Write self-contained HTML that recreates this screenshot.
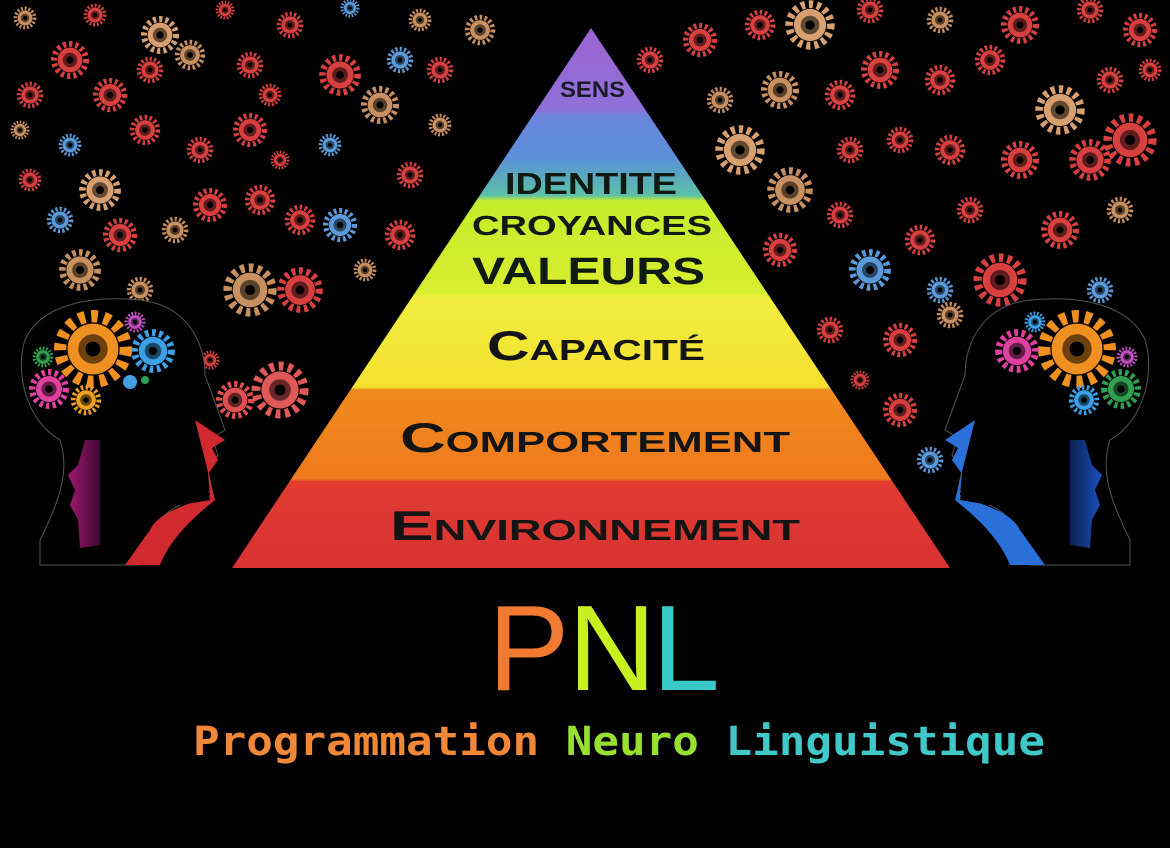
<!DOCTYPE html>
<html><head><meta charset="utf-8"><style>
html,body{margin:0;padding:0;background:#000;}
body{width:1170px;height:848px;overflow:hidden;position:relative;}
svg{position:absolute;left:0;top:0;}
</style></head><body>
<svg width="1170" height="848" viewBox="0 0 1170 848" xmlns="http://www.w3.org/2000/svg">
<defs>
<symbol id="g" viewBox="-10 -10 20 20" overflow="visible">
<circle r="8" fill="none" stroke="currentColor" stroke-width="3" stroke-dasharray="1.6 1.5"/>
<circle r="6.2" fill="currentColor"/>
<circle r="3.6" fill="#000" opacity="0.55"/>
<circle r="1.8" fill="#000"/>
</symbol>
<linearGradient id="pyr" x1="0" y1="28" x2="0" y2="568" gradientUnits="userSpaceOnUse">
<stop offset="0" stop-color="#9a64d0"/>
<stop offset="0.15" stop-color="#9070d8"/>
<stop offset="0.165" stop-color="#6a86dc"/>
<stop offset="0.24" stop-color="#5a90d8"/>
<stop offset="0.31" stop-color="#5cc0a8"/>
<stop offset="0.32" stop-color="#c6ec2c"/>
<stop offset="0.49" stop-color="#d8ee30"/>
<stop offset="0.5" stop-color="#f2ee40"/>
<stop offset="0.665" stop-color="#f4e030"/>
<stop offset="0.67" stop-color="#f08a1e"/>
<stop offset="0.835" stop-color="#f07a1e"/>
<stop offset="0.84" stop-color="#e03c32"/>
<stop offset="1" stop-color="#d83232"/>
</linearGradient>
<linearGradient id="lface" x1="0" y1="0" x2="1" y2="0">
<stop offset="0" stop-color="#a01870"/><stop offset="1" stop-color="#400830"/>
</linearGradient>
<linearGradient id="rface" x1="0" y1="0" x2="1" y2="0">
<stop offset="0" stop-color="#1a50c0"/><stop offset="1" stop-color="#0a2050"/>
</linearGradient>
</defs>

<g>
<use href="#g" x="13" y="6" width="24" height="24" color="#c89060"/>
<use href="#g" x="83" y="3" width="24" height="24" color="#d84040"/>
<use href="#g" x="140" y="15" width="40" height="40" color="#d8a070"/>
<use href="#g" x="215" y="0" width="20" height="20" color="#d84040"/>
<use href="#g" x="276" y="11" width="28" height="28" color="#d84040"/>
<use href="#g" x="340" y="-2" width="20" height="20" color="#5a9ad8"/>
<use href="#g" x="408" y="8" width="24" height="24" color="#c89060"/>
<use href="#g" x="464" y="14" width="32" height="32" color="#c89060"/>
<use href="#g" x="50" y="40" width="40" height="40" color="#d84040"/>
<use href="#g" x="92" y="77" width="36" height="36" color="#d84040"/>
<use href="#g" x="136" y="56" width="28" height="28" color="#d84040"/>
<use href="#g" x="174" y="39" width="32" height="32" color="#c89060"/>
<use href="#g" x="236" y="51" width="28" height="28" color="#d84040"/>
<use href="#g" x="258" y="83" width="24" height="24" color="#d84040"/>
<use href="#g" x="318" y="53" width="44" height="44" color="#d84040"/>
<use href="#g" x="386" y="46" width="28" height="28" color="#5a9ad8"/>
<use href="#g" x="426" y="56" width="28" height="28" color="#d84040"/>
<use href="#g" x="16" y="81" width="28" height="28" color="#d84040"/>
<use href="#g" x="10" y="120" width="20" height="20" color="#c89060"/>
<use href="#g" x="58" y="133" width="24" height="24" color="#5a9ad8"/>
<use href="#g" x="78" y="168" width="44" height="44" color="#d8a070"/>
<use href="#g" x="129" y="114" width="32" height="32" color="#d84040"/>
<use href="#g" x="186" y="136" width="28" height="28" color="#d84040"/>
<use href="#g" x="232" y="112" width="36" height="36" color="#d84040"/>
<use href="#g" x="270" y="150" width="20" height="20" color="#d84040"/>
<use href="#g" x="318" y="133" width="24" height="24" color="#5a9ad8"/>
<use href="#g" x="360" y="85" width="40" height="40" color="#c89060"/>
<use href="#g" x="428" y="113" width="24" height="24" color="#c89060"/>
<use href="#g" x="18" y="168" width="24" height="24" color="#d84040"/>
<use href="#g" x="46" y="206" width="28" height="28" color="#5a9ad8"/>
<use href="#g" x="102" y="217" width="36" height="36" color="#d84040"/>
<use href="#g" x="161" y="216" width="28" height="28" color="#c89060"/>
<use href="#g" x="192" y="187" width="36" height="36" color="#d84040"/>
<use href="#g" x="244" y="184" width="32" height="32" color="#d84040"/>
<use href="#g" x="284" y="204" width="32" height="32" color="#d84040"/>
<use href="#g" x="322" y="207" width="36" height="36" color="#5a9ad8"/>
<use href="#g" x="384" y="219" width="32" height="32" color="#d84040"/>
<use href="#g" x="396" y="161" width="28" height="28" color="#d84040"/>
<use href="#g" x="58" y="248" width="44" height="44" color="#c89060"/>
<use href="#g" x="126" y="276" width="28" height="28" color="#c89060"/>
<use href="#g" x="222" y="262" width="56" height="56" color="#c89060"/>
<use href="#g" x="276" y="266" width="48" height="48" color="#d84040"/>
<use href="#g" x="353" y="258" width="24" height="24" color="#c89060"/>
<use href="#g" x="215" y="380" width="40" height="40" color="#e05050"/>
<use href="#g" x="250" y="360" width="60" height="60" color="#e05858"/>
<use href="#g" x="200" y="350" width="20" height="20" color="#d84040"/>

<use href="#g" x="682" y="22" width="36" height="36" color="#d84040"/>
<use href="#g" x="744" y="9" width="32" height="32" color="#d84040"/>
<use href="#g" x="784" y="-1" width="52" height="52" color="#d8a070"/>
<use href="#g" x="856" y="-4" width="28" height="28" color="#d84040"/>
<use href="#g" x="926" y="6" width="28" height="28" color="#c89060"/>
<use href="#g" x="1000" y="5" width="40" height="40" color="#d84040"/>
<use href="#g" x="1076" y="-4" width="28" height="28" color="#d84040"/>
<use href="#g" x="1122" y="12" width="36" height="36" color="#d84040"/>
<use href="#g" x="636" y="46" width="28" height="28" color="#d84040"/>
<use href="#g" x="706" y="86" width="28" height="28" color="#c89060"/>
<use href="#g" x="760" y="70" width="40" height="40" color="#c89060"/>
<use href="#g" x="824" y="79" width="32" height="32" color="#d84040"/>
<use href="#g" x="860" y="50" width="40" height="40" color="#d84040"/>
<use href="#g" x="924" y="64" width="32" height="32" color="#d84040"/>
<use href="#g" x="974" y="44" width="32" height="32" color="#d84040"/>
<use href="#g" x="1034" y="84" width="52" height="52" color="#d8a070"/>
<use href="#g" x="1096" y="66" width="28" height="28" color="#d84040"/>
<use href="#g" x="1138" y="58" width="24" height="24" color="#d84040"/>
<use href="#g" x="714" y="124" width="52" height="52" color="#d8a070"/>
<use href="#g" x="766" y="166" width="48" height="48" color="#c89060"/>
<use href="#g" x="836" y="136" width="28" height="28" color="#d84040"/>
<use href="#g" x="886" y="126" width="28" height="28" color="#d84040"/>
<use href="#g" x="934" y="134" width="32" height="32" color="#d84040"/>
<use href="#g" x="1000" y="140" width="40" height="40" color="#d84040"/>
<use href="#g" x="1068" y="138" width="44" height="44" color="#d84040"/>
<use href="#g" x="1102" y="112" width="56" height="56" color="#d84040"/>
<use href="#g" x="762" y="232" width="36" height="36" color="#d84040"/>
<use href="#g" x="826" y="201" width="28" height="28" color="#d84040"/>
<use href="#g" x="848" y="248" width="44" height="44" color="#5a9ad8"/>
<use href="#g" x="904" y="224" width="32" height="32" color="#d84040"/>
<use href="#g" x="956" y="196" width="28" height="28" color="#d84040"/>
<use href="#g" x="1040" y="210" width="40" height="40" color="#d84040"/>
<use href="#g" x="1106" y="196" width="28" height="28" color="#c89060"/>
<use href="#g" x="972" y="252" width="56" height="56" color="#d84040"/>
<use href="#g" x="926" y="276" width="28" height="28" color="#5a9ad8"/>
<use href="#g" x="1086" y="276" width="28" height="28" color="#5a9ad8"/>
<use href="#g" x="816" y="316" width="28" height="28" color="#d84040"/>
<use href="#g" x="882" y="322" width="36" height="36" color="#d84040"/>
<use href="#g" x="936" y="301" width="28" height="28" color="#c89060"/>
<use href="#g" x="882" y="392" width="36" height="36" color="#d84040"/>
<use href="#g" x="850" y="370" width="20" height="20" color="#d84040"/>
<use href="#g" x="916" y="446" width="28" height="28" color="#5a9ad8"/>
</g>

<g>
<path d="M40,540 C60,500 70,470 60,440 C25,420 15,370 25,340 C40,305 90,295 140,300 C185,305 205,340 205,375 L225,430 L212,438 L218,455 L208,470 L212,490 C195,500 175,505 165,515 L140,565 L40,565 Z" fill="#000" stroke="#555" stroke-width="1"/>
<path d="M85,440 L100,440 L100,545 L80,548 L78,520 L70,505 L75,490 L68,475 L78,465 Z" fill="url(#lface)"/>
<path d="M195,420 L225,440 L212,448 L218,460 L208,474 L210,495 C190,505 160,510 150,530 L125,565 L160,565 C170,540 190,520 215,500 Z" fill="#d02a30"/>
<path d="M130,425 L195,420 L210,500 L180,505 Z" fill="#000"/>
<use href="#g" x="52" y="308" width="82" height="82" color="#f09020"/>
<use href="#g" x="130" y="328" width="46" height="46" color="#3aa0e8"/>
<use href="#g" x="28" y="368" width="42" height="42" color="#e040a0"/>
<use href="#g" x="70" y="384" width="32" height="32" color="#f0a020"/>
<use href="#g" x="32" y="346" width="22" height="22" color="#30a050"/>
<use href="#g" x="124" y="311" width="22" height="22" color="#c050c0"/>
<circle cx="130" cy="382" r="7" fill="#40a0e0"/><circle cx="145" cy="380" r="4" fill="#30a050"/>
</g>
<g transform="translate(1170,0) scale(-1,1)">
<path d="M40,540 C60,500 70,470 60,440 C25,420 15,370 25,340 C40,305 90,295 140,300 C185,305 205,340 205,375 L225,430 L212,438 L218,455 L208,470 L212,490 C195,500 175,505 165,515 L140,565 L40,565 Z" fill="#000" stroke="#555" stroke-width="1"/>
<path d="M85,440 L100,440 L100,545 L80,548 L78,520 L70,505 L75,490 L68,475 L78,465 Z" fill="url(#rface)"/>
<path d="M195,420 L225,440 L212,448 L218,460 L208,474 L210,495 C190,505 160,510 150,530 L125,565 L160,565 C170,540 190,520 215,500 Z" fill="#2a70d8"/>
<path d="M130,425 L195,420 L210,500 L180,505 Z" fill="#000"/>
<use href="#g" x="52" y="308" width="82" height="82" color="#f09020"/>
<use href="#g" x="130" y="328" width="46" height="46" color="#e040a0"/>
<use href="#g" x="28" y="368" width="42" height="42" color="#30a050"/>
<use href="#g" x="70" y="384" width="32" height="32" color="#3aa0e8"/>
<use href="#g" x="32" y="346" width="22" height="22" color="#c050c0"/>
<use href="#g" x="124" y="311" width="22" height="22" color="#3aa0e8"/>
</g>

<polygon points="591,28 232,568 950,568" fill="url(#pyr)"/>
<g font-family="'Liberation Sans',sans-serif" font-weight="bold" fill="#1a1a2a" lengthAdjust="spacingAndGlyphs">
<text x="560" y="97" font-size="22" textLength="65" lengthAdjust="spacingAndGlyphs">SENS</text>
<text x="505" y="194" font-size="31" fill="#101a10" textLength="172" lengthAdjust="spacingAndGlyphs">IDENTITE</text>
<text x="472" y="235" font-size="28" fill="#101a10" textLength="240" lengthAdjust="spacingAndGlyphs">CROYANCES</text>
<text x="472" y="284" font-size="38" fill="#101a10" textLength="233" lengthAdjust="spacingAndGlyphs">VALEURS</text>
<text x="487" y="360" font-size="42" font-variant="small-caps" fill="#141414" textLength="218" lengthAdjust="spacingAndGlyphs">Capacité</text>
<text x="400" y="452" font-size="42" font-variant="small-caps" fill="#141414" textLength="390" lengthAdjust="spacingAndGlyphs">Comportement</text>
<text x="390" y="540" font-size="42" font-variant="small-caps" fill="#141414" textLength="410" lengthAdjust="spacingAndGlyphs">Environnement</text>
</g>

<g font-family="'Liberation Sans',sans-serif" font-size="122">
<text x="488" y="690" fill="#f07a30">P</text>
<text x="568" y="690" fill="#c8f020">N</text>
<text x="652" y="690" fill="#38c8c8">L</text>
</g>
<g font-family="'DejaVu Sans Mono','Liberation Mono',monospace" font-size="40" font-weight="bold">
<text x="193" y="755" textLength="852" lengthAdjust="spacingAndGlyphs"><tspan fill="#f08838">Programmation</tspan><tspan fill="#98e030"> Neuro</tspan><tspan fill="#40c8c8"> Linguistique</tspan></text>
</g>
</svg>
</body></html>
